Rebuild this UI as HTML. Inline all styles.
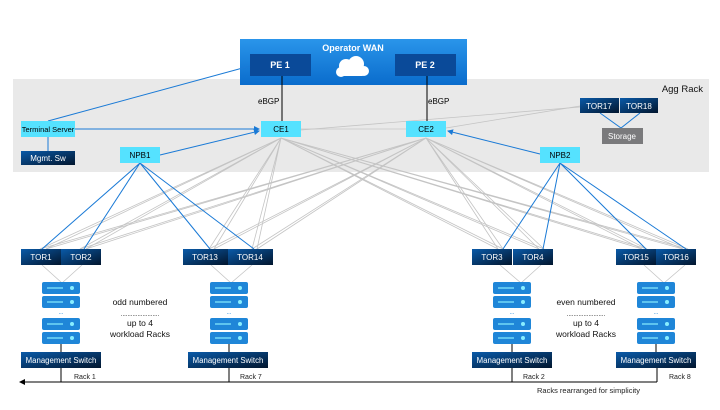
<!DOCTYPE html>
<html><head><meta charset="utf-8"><style>
body{margin:0;background:#fff;}
svg text{font-family:"Liberation Sans",sans-serif;}
</style></head><body>
<svg width="720" height="405" viewBox="0 0 720 405" xmlns="http://www.w3.org/2000/svg">
<defs>
<linearGradient id="dk" x1="0" y1="0" x2="1" y2="1"><stop offset="0" stop-color="#0a5aa8"/><stop offset="1" stop-color="#02162e"/></linearGradient>
<linearGradient id="wan" x1="0" y1="0" x2="0" y2="1"><stop offset="0" stop-color="#2a95ea"/><stop offset="1" stop-color="#0a6ccc"/></linearGradient>
<marker id="ar" markerWidth="6" markerHeight="6" refX="5" refY="3" orient="auto"><path d="M0,0 L6,3 L0,6z" fill="#1a7ad6"/></marker>
<marker id="ak" markerWidth="6" markerHeight="6" refX="1" refY="3" orient="auto"><path d="M6,0 L0,3 L6,6z" fill="#000"/></marker>
</defs>
<rect x="13" y="79" width="696" height="93" fill="#e9e9e9"/>
<text x="703" y="92" font-size="9.5" text-anchor="end" fill="#111">Agg Rack</text>
<rect x="240" y="39" width="227" height="46" fill="url(#wan)"/>
<text x="353" y="51" font-size="9" font-weight="bold" fill="#fff" text-anchor="middle">Operator WAN</text>
<rect x="250" y="54" width="61" height="22" fill="#0a4a99"/>
<text x="280" y="68" font-size="9" font-weight="bold" fill="#fff" text-anchor="middle">PE 1</text>
<rect x="395" y="54" width="61" height="22" fill="#0a4a99"/>
<text x="425" y="68" font-size="9" font-weight="bold" fill="#fff" text-anchor="middle">PE 2</text>
<g fill="#fff"><circle cx="346" cy="66" r="7"/><circle cx="356" cy="64" r="8"/><circle cx="341" cy="72" r="5"/><circle cx="364" cy="71" r="5"/><rect x="341" y="68" width="24" height="8" rx="3"/></g>
<g stroke="#c4c4c4" stroke-width="0.8" fill="none">
<line x1="301" y1="129" x2="406" y2="129"/>
<line x1="301" y1="130" x2="580" y2="107"/>
<line x1="446" y1="128" x2="580" y2="106"/>
<path d="M281 138L40 249M281 138L46 249M281 138L80 249M281 138L86 249M281 138L209 249M281 138L214 249M281 138L252 249M281 138L257 249M281 138L498 249M281 138L503 249M281 138L539 249M281 138L544 249M281 138L642 249M281 138L647 249M281 138L683 249M281 138L688 249"/>
<path d="M426 138L40 249M426 138L46 249M426 138L80 249M426 138L86 249M426 138L209 249M426 138L214 249M426 138L252 249M426 138L257 249M426 138L498 249M426 138L503 249M426 138L539 249M426 138L544 249M426 138L642 249M426 138L647 249M426 138L683 249M426 138L688 249"/>
<path d="M42 265L62 283L82 265M211 265L231 283L252 265M500 265L521 283L541 265M644 265L664 283L685 265"/>
</g>
<g stroke="#1a7ad6" stroke-width="1" fill="none">
<line x1="48" y1="121" x2="250" y2="66"/>
<line x1="75" y1="129" x2="259" y2="129" marker-end="url(#ar)"/>
<line x1="48" y1="137" x2="48" y2="151"/>
<line x1="160" y1="155" x2="259" y2="131" marker-end="url(#ar)"/>
<line x1="540" y1="154" x2="448" y2="131" marker-end="url(#ar)"/>
<path d="M140 163L42 249M140 163L84 249M140 163L210 249M140 163L254 249"/>
<path d="M560 163L503 249M560 163L543 249M560 163L646 249M560 163L686 249"/>
<path d="M600 113L621 128L640 113"/>
</g>
<g stroke="#000" stroke-width="1"><line x1="282" y1="76" x2="282" y2="121"/><line x1="427" y1="76" x2="427" y2="121"/></g>
<text x="258" y="104" font-size="8">eBGP</text>
<text x="428" y="104" font-size="8">eBGP</text>
<g font-size="8" text-anchor="middle" fill="#000">
<rect x="21" y="121" width="54" height="16" fill="#55e2ff"/><text x="48" y="132" font-size="7.5">Terminal Server</text>
<rect x="261" y="121" width="40" height="16" fill="#55e2ff"/><text x="281" y="132">CE1</text>
<rect x="406" y="121" width="40" height="16" fill="#55e2ff"/><text x="426" y="132">CE2</text>
<rect x="120" y="147" width="40" height="16" fill="#55e2ff"/><text x="140" y="158">NPB1</text>
<rect x="540" y="147" width="40" height="16" fill="#55e2ff"/><text x="560" y="158">NPB2</text>
</g>
<g font-size="8" text-anchor="middle" fill="#fff">
<rect x="21" y="151" width="54" height="14" fill="url(#dk)"/><text x="48" y="161">Mgmt. Sw</text>
<rect x="580" y="98" width="39" height="15" fill="url(#dk)"/><text x="599" y="109">TOR17</text>
<rect x="620" y="98" width="38" height="15" fill="url(#dk)"/><text x="639" y="109">TOR18</text>
<rect x="602" y="128" width="41" height="16" fill="#7a7a7c"/><text x="622" y="139">Storage</text>
<rect x="21" y="249" width="40" height="16" fill="url(#dk)"/><text x="41" y="260">TOR1</text>
<rect x="61" y="249" width="40" height="16" fill="url(#dk)"/><text x="81" y="260">TOR2</text>
<rect x="183" y="249" width="45" height="16" fill="url(#dk)"/><text x="205" y="260">TOR13</text>
<rect x="228" y="249" width="45" height="16" fill="url(#dk)"/><text x="250" y="260">TOR14</text>
<rect x="472" y="249" width="40" height="16" fill="url(#dk)"/><text x="492" y="260">TOR3</text>
<rect x="513" y="249" width="40" height="16" fill="url(#dk)"/><text x="533" y="260">TOR4</text>
<rect x="616" y="249" width="40" height="16" fill="url(#dk)"/><text x="636" y="260">TOR15</text>
<rect x="656" y="249" width="40" height="16" fill="url(#dk)"/><text x="676" y="260">TOR16</text>
<rect x="21" y="352" width="80" height="16" fill="url(#dk)"/><text x="61" y="363" font-size="7.8">Management Switch</text>
<rect x="188" y="352" width="80" height="16" fill="url(#dk)"/><text x="228" y="363" font-size="7.8">Management Switch</text>
<rect x="472" y="352" width="80" height="16" fill="url(#dk)"/><text x="512" y="363" font-size="7.8">Management Switch</text>
<rect x="616" y="352" width="80" height="16" fill="url(#dk)"/><text x="656" y="363" font-size="7.8">Management Switch</text>
</g>
<g id="srv">
<rect x="42" y="282" width="38" height="12" rx="2" fill="#1f86d8"/><line x1="47" y1="288" x2="63" y2="288" stroke="#8ef" stroke-width="1.2"/><circle cx="72" cy="288" r="2" fill="#8ef"/>
<rect x="42" y="296" width="38" height="12" rx="2" fill="#1f86d8"/><line x1="47" y1="302" x2="63" y2="302" stroke="#8ef" stroke-width="1.2"/><circle cx="72" cy="302" r="2" fill="#8ef"/>
<text x="61" y="314" font-size="6" fill="#1f86d8" text-anchor="middle">...</text>
<rect x="42" y="318" width="38" height="12" rx="2" fill="#1f86d8"/><line x1="47" y1="324" x2="63" y2="324" stroke="#8ef" stroke-width="1.2"/><circle cx="72" cy="324" r="2" fill="#8ef"/>
<rect x="42" y="332" width="38" height="12" rx="2" fill="#1f86d8"/><line x1="47" y1="338" x2="63" y2="338" stroke="#8ef" stroke-width="1.2"/><circle cx="72" cy="338" r="2" fill="#8ef"/>
<line x1="61" y1="344" x2="61" y2="352" stroke="#000"/>
</g>
<use href="#srv" x="168"/><use href="#srv" x="451"/><use href="#srv" x="595"/>
<g stroke="#000" stroke-width="1">
<line x1="20" y1="382" x2="657" y2="382" marker-start="url(#ak)"/>
<line x1="61" y1="368" x2="61" y2="382"/><line x1="229" y1="368" x2="229" y2="382"/>
<line x1="512" y1="368" x2="512" y2="382"/><line x1="657" y1="368" x2="657" y2="382"/>
</g>
<g font-size="7" fill="#222">
<text x="74" y="379">Rack 1</text><text x="240" y="379">Rack 7</text><text x="523" y="379">Rack 2</text><text x="669" y="379">Rack 8</text>
<text x="537" y="393" font-size="7.5">Racks rearranged for simplicity</text>
</g>
<g font-size="8.5" fill="#111" text-anchor="middle">
<text x="140" y="305">odd numbered</text><text x="140" y="316" font-size="6">.......................</text><text x="140" y="326">up to 4</text><text x="140" y="337">workload Racks</text>
<text x="586" y="305">even numbered</text><text x="586" y="316" font-size="6">.......................</text><text x="586" y="326">up to 4</text><text x="586" y="337">workload Racks</text>
</g>
</svg>
</body></html>
